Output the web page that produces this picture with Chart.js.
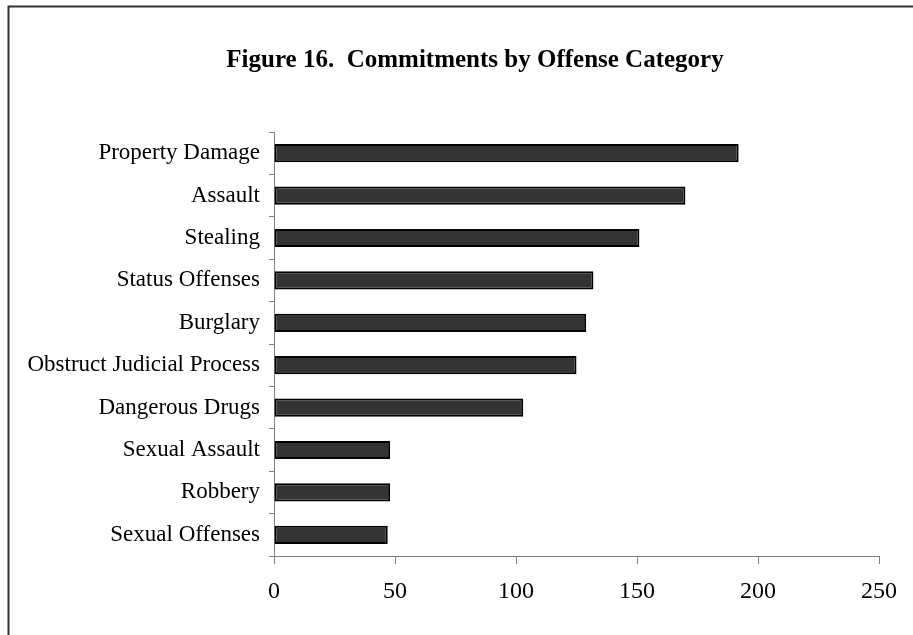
<!DOCTYPE html>
<html>
<head>
<meta charset="utf-8">
<script src="https://cdn.jsdelivr.net/npm/chart.js@4/dist/chart.umd.min.js"></script>
<style>
    html, body { margin: 0; padding: 0; background: #fff; }
    #wrap { width: 913px; height: 635px; position: relative; }
</style>
</head>
<body>
<div id="wrap"><canvas id="offenseChart" width="913" height="635"></canvas></div>
<script>
const chartTitle = 'Figure 16.  Commitments by Offense Category';
const categories = [
    'Property Damage',
    'Assault',
    'Stealing',
    'Status Offenses',
    'Burglary',
    'Obstruct Judicial Process',
    'Dangerous Drugs',
    'Sexual Assault',
    'Robbery',
    'Sexual Offenses'
];
const commitments = [192, 170, 151, 132, 129, 125, 103, 48, 48, 47];
const xTicks = [0, 50, 100, 150, 200, 250];

const serif = "'Liberation Serif', 'Times New Roman', serif";

// frame (left + top edges only visible) and the title
const framePlugin = {
    id: 'frameAndTitle',
    beforeDraw(chart) {
        const ctx = chart.ctx;
        ctx.save();
        ctx.fillStyle = '#fff';
        ctx.fillRect(0, 0, chart.width, chart.height);
        ctx.strokeStyle = '#333';
        ctx.lineWidth = 2;
        ctx.beginPath();
        ctx.moveTo(8.5, chart.height + 5);
        ctx.lineTo(8.5, 6.5);
        ctx.lineTo(chart.width + 5, 6.5);
        ctx.stroke();

        ctx.fillStyle = '#000';
        ctx.font = 'bold 25px ' + serif;
        ctx.textAlign = 'center';
        ctx.textBaseline = 'alphabetic';
        ctx.fillText(chartTitle, 475, 67);
        ctx.restore();
    }
};

new Chart(document.getElementById('offenseChart'), {
    type: 'bar',
    data: {
        labels: categories,
        datasets: [{
            data: commitments,
            backgroundColor: '#333333',
            borderColor: '#000000',
            borderWidth: 2,
            borderSkipped: false,
            barPercentage: 0.43,
            categoryPercentage: 1
        }]
    },
    options: {
        indexAxis: 'y',
        responsive: false,
        animation: false,
        layout: {
            padding: { top: 132, right: 34, bottom: 0, left: 0 }
        },
        plugins: {
            legend: { display: false },
            title: { display: false },
            tooltip: { enabled: false }
        },
        scales: {
            x: {
                min: 0,
                max: 250,
                afterBuildTicks: axis => {
                    axis.ticks = xTicks.map(v => ({ value: v }));
                },
                afterFit: axis => { axis.height = 79; },
                grid: {
                    drawOnChartArea: false,
                    drawTicks: true,
                    tickLength: 8,
                    color: '#808080'
                },
                border: { color: '#808080', width: 1 },
                ticks: {
                    color: '#000',
                    padding: 13,
                    maxRotation: 0,
                    font: { family: serif, size: 24 }
                }
            },
            y: {
                afterFit: axis => { axis.width = 274; },
                grid: {
                    offset: true,
                    drawOnChartArea: false,
                    drawTicks: true,
                    tickLength: 5,
                    color: '#808080'
                },
                border: { color: '#808080', width: 1 },
                ticks: {
                    color: '#000',
                    padding: 9,
                    autoSkip: false,
                    font: { family: serif, size: 23 }
                }
            }
        }
    },
    plugins: [framePlugin]
});
</script>
</body>
</html>
